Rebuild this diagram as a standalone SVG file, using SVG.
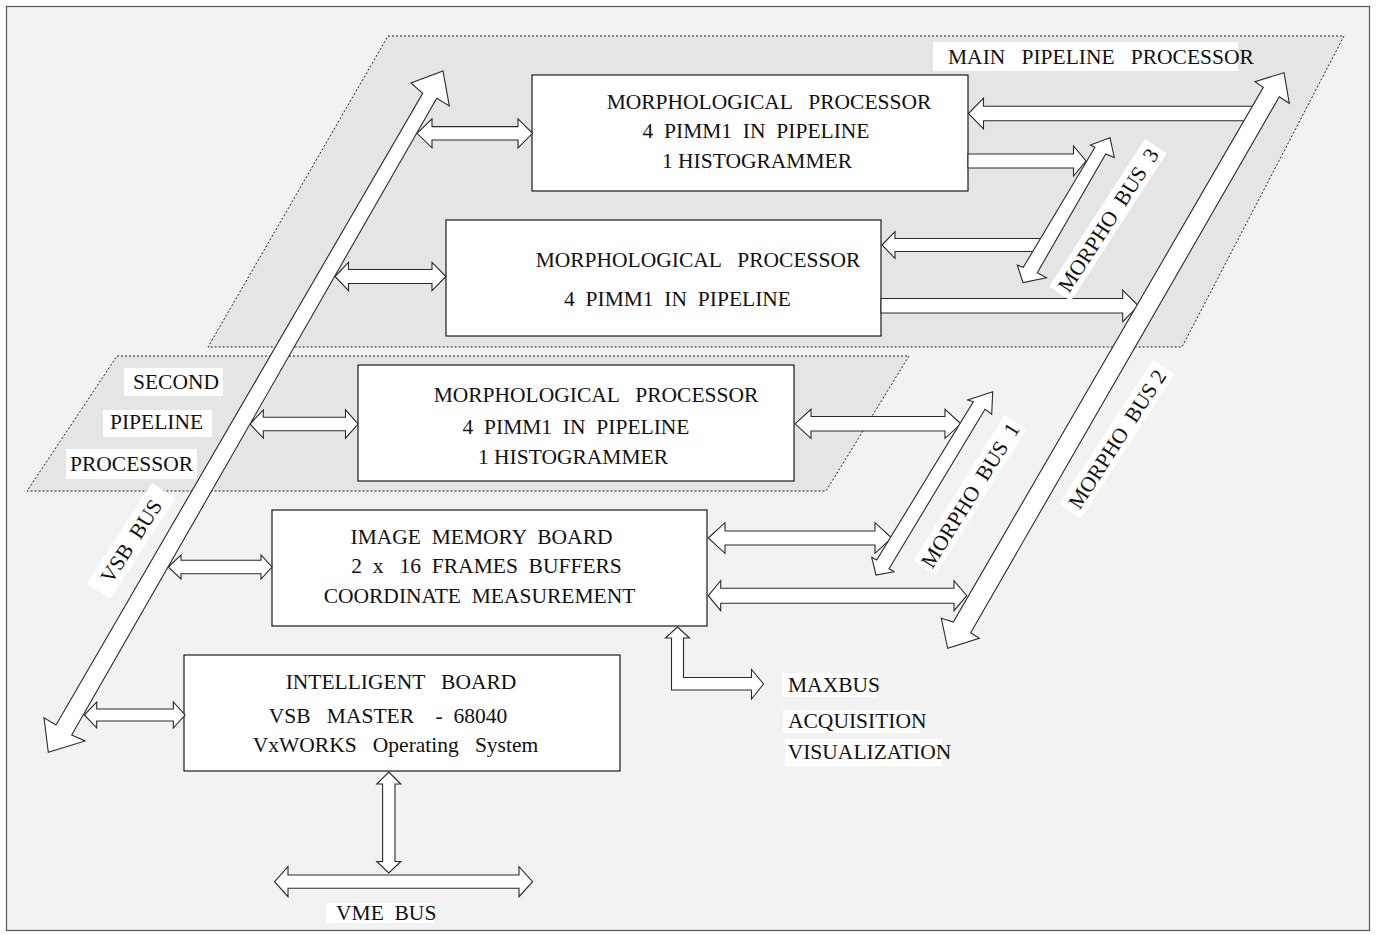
<svg xmlns="http://www.w3.org/2000/svg" width="1376" height="935" viewBox="0 0 1376 935">
<style>
.t{font-family:"Liberation Serif","Times New Roman",serif;font-size:21.5px;fill:#111;}
.box{fill:#fff;stroke:#1a1a1a;stroke-width:1.2;}
.reg{fill:#e5e5e5;stroke:#222;stroke-width:1;stroke-dasharray:2,2;}
.ar{fill:#fff;stroke:#2a2a2a;stroke-width:1.1;stroke-linejoin:miter;}
.lb{fill:#fff;stroke:none;}
</style>
<rect x="0" y="0" width="1376" height="935" fill="#fff"/>
<rect x="6.5" y="6.5" width="1363" height="924" fill="#f2f2f2" stroke="#555" stroke-width="1.2"/>

<g id="main-pipeline-region">
<polygon class="reg" points="388,36 1344,36 1182,347 208,347"/>
<rect class="lb" x="933" y="42" width="305" height="29"/>
<text class="t" x="948" y="64" xml:space="preserve">MAIN   PIPELINE   PROCESSOR</text>
</g>
<g id="second-pipeline-region">
<polygon class="reg" points="117,356 909,356 826,491 27,491"/>
<rect class="lb" x="124" y="368" width="99" height="28"/>
<text class="t" x="133" y="389">SECOND</text>
<rect class="lb" x="103" y="410" width="109" height="27"/>
<text class="t" x="110" y="429">PIPELINE</text>
<rect class="lb" x="66" y="449" width="131" height="30"/>
<text class="t" x="70" y="471">PROCESSOR</text>
</g>

<g id="morph1">
<rect class="box" x="532" y="75" width="436" height="116"/>
<text class="t" text-anchor="middle" x="769" y="108.5" xml:space="preserve">MORPHOLOGICAL   PROCESSOR</text>
<text class="t" text-anchor="middle" x="756" y="137.5" xml:space="preserve">4  PIMM1  IN  PIPELINE</text>
<text class="t" text-anchor="middle" x="757" y="168">1 HISTOGRAMMER</text>
</g>
<g id="morph2">
<rect class="box" x="446" y="220" width="435" height="116"/>
<text class="t" text-anchor="middle" x="698" y="266.7" xml:space="preserve">MORPHOLOGICAL   PROCESSOR</text>
<text class="t" text-anchor="middle" x="677.5" y="305.7" xml:space="preserve">4  PIMM1  IN  PIPELINE</text>
</g>
<g id="morph3">
<rect class="box" x="358" y="365" width="436" height="116"/>
<text class="t" text-anchor="middle" x="596" y="402" xml:space="preserve">MORPHOLOGICAL   PROCESSOR</text>
<text class="t" text-anchor="middle" x="576" y="433.5" xml:space="preserve">4  PIMM1  IN  PIPELINE</text>
<text class="t" text-anchor="middle" x="573" y="464">1 HISTOGRAMMER</text>
</g>
<g id="image-memory">
<rect class="box" x="272" y="510" width="435" height="116"/>
<text class="t" text-anchor="middle" x="481.5" y="544" xml:space="preserve">IMAGE  MEMORY  BOARD</text>
<text class="t" text-anchor="middle" x="486.5" y="573.3" xml:space="preserve">2  x   16  FRAMES  BUFFERS</text>
<text class="t" text-anchor="middle" x="479.5" y="602.7" xml:space="preserve">COORDINATE  MEASUREMENT</text>
</g>
<g id="intelligent-board">
<rect class="box" x="184" y="655" width="436" height="116"/>
<text class="t" text-anchor="middle" x="401" y="689" xml:space="preserve">INTELLIGENT   BOARD</text>
<text class="t" text-anchor="middle" x="388" y="723" xml:space="preserve">VSB   MASTER    -  68040</text>
<text class="t" text-anchor="middle" x="395.5" y="752" xml:space="preserve">VxWORKS   Operating   System</text>
</g>
<g id="maxbus-label">
<rect class="lb" x="782" y="673" width="95" height="24"/>
<text class="t" x="788" y="691.7">MAXBUS</text>
<rect class="lb" x="783" y="710" width="137" height="23"/>
<text class="t" x="788" y="728.3">ACQUISITION</text>
<rect class="lb" x="785" y="739" width="157" height="27"/>
<text class="t" x="787.7" y="759.3">VISUALIZATION</text>
</g>
<g id="vme-label">
<rect class="lb" x="326" y="903" width="108" height="20"/>
<text class="t" x="336" y="920" xml:space="preserve">VME  BUS</text>
</g>

<g id="connectors">
<polygon class="ar" points="417,133.3 432,118.8 432,126.6 518,126.6 518,118.8 532.5,133.3 518,147.8 518,140 432,140 432,147.8"/>
<polygon class="ar" points="335,276.5 348.5,262.3 348.5,269.5 432,269.5 432,262.3 446,276.5 432,290.7 432,283.5 348.5,283.5 348.5,290.7"/>
<polygon class="ar" points="250,424 263.3,409.8 263.3,417.3 345.5,417.3 345.5,409.8 358,424 345.5,438.2 345.5,430.7 263.3,430.7 263.3,438.2"/>
<polygon class="ar" points="168.3,567 181,555 181,560.3 261,560.3 261,555 272,567 261,579 261,573.7 181,573.7 181,579"/>
<polygon class="ar" points="84.3,715 96.7,702 96.7,709 173.3,709 173.3,702 185,715 173.3,728 173.3,721 96.7,721 96.7,728"/>
<polygon class="ar" points="968.5,113.5 983.5,98 983.5,106.2 1260,106.2 1260,120.8 983.5,120.8 983.5,129"/>
<polygon class="ar" points="968,154 1073.5,154 1073.5,146 1086,161 1073.5,176 1073.5,168 968,168"/>
<polygon class="ar" points="882,245 895,231.7 895,238.5 1045,238.5 1045,251.5 895,251.5 895,258.3"/>
<polygon class="ar" points="881,298.5 1122.7,298.5 1122.7,290 1138.3,305.8 1122.7,321.6 1122.7,313 881,313"/>
<polygon class="ar" points="795,423.8 811,409.3 811,416.5 945,416.5 945,409.3 961,423.8 945,438.3 945,431 811,431 811,438.3"/>
<polygon class="ar" points="708.3,538 725,522.7 725,531 875,531 875,522.7 891.7,538 875,553.3 875,545 725,545 725,553.3"/>
<polygon class="ar" points="708.3,595.7 720.7,580.7 720.7,588.2 954,588.2 954,580.7 966.7,595.7 954,610.7 954,603.2 720.7,603.2 720.7,610.7"/>
<polygon class="ar" points="677.5,627 689.5,638 683.5,638 683.5,677.5 751.5,677.5 751.5,669.5 763.5,684 751.5,699 751.5,690 671.5,690 671.5,638 665.5,638"/>
<polygon class="ar" points="388.8,772 400.8,784 395,784 395,861.5 400.8,861.5 388.8,873 376.8,861.5 382.6,861.5 382.6,784 376.8,784"/>
<polygon class="ar" points="274.6,881.7 288,866.7 288,875 519,875 519,866.7 532.6,881.7 519,896.7 519,888.3 288,888.3 288,896.7"/>
<polygon id="vsb-bus" class="ar" points="48.3,752.3 44,717.7 56,725 422.7,93.3 411,83 443,71 449.3,106 436.7,98.3 71.7,735 85,741"/>
<polygon id="morpho-bus-2" class="ar" points="1284,72.7 1255,81.7 1263.3,87.3 953.3,622 941.3,618.3 947.7,648.3 979.3,638.3 970.7,632.7 1279.3,96.7 1289.3,103.3"/>
<polygon id="morpho-bus-3" class="ar" points="1110,137.8 1090.4,145 1095,147.3 1023.3,267.3 1017.3,265.2 1023,282.5 1046.5,277.7 1037.3,272.7 1105.7,154 1114.3,157.5"/>
<polygon id="morpho-bus-1" class="ar" points="992.7,391.7 967.7,400 973.3,401.7 876.7,560 871.7,557.3 876,575 894,571.7 889,568.7 985,409.3 991.7,414.3"/>
</g>

<g id="bus-labels">
<g transform="translate(131,541) rotate(-57)">
<rect class="lb" x="-60" y="-14" width="120" height="28"/>
<text class="t" text-anchor="middle" x="0" y="7.5" xml:space="preserve">VSB  BUS</text>
</g>
<g transform="translate(1108,220) rotate(-57)">
<rect class="lb" x="-88" y="-13" width="176" height="26"/>
<text class="t" text-anchor="middle" x="0" y="7.5" xml:space="preserve">MORPHO  BUS  3</text>
</g>
<g transform="translate(970,495) rotate(-58)">
<rect class="lb" x="-86" y="-13" width="172" height="26"/>
<text class="t" text-anchor="middle" x="0" y="7.5" xml:space="preserve">MORPHO  BUS  1</text>
</g>
<g transform="translate(1117,439) rotate(-57)">
<rect class="lb" x="-86" y="-13" width="172" height="26"/>
<text class="t" text-anchor="middle" x="0" y="7.5" xml:space="preserve">MORPHO  BUS 2</text>
</g>
</g>
</svg>
